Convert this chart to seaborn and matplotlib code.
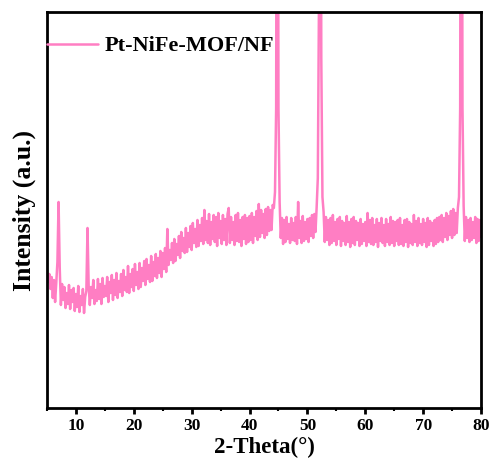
import numpy as np
import pandas as pd
import seaborn as sns
import matplotlib
matplotlib.use("Agg")
import matplotlib.pyplot as plt
from matplotlib.ticker import MultipleLocator

# XRD scan: 2-theta from 5 to 80 deg, step 0.2 deg
two_theta_start = 5.0
two_theta_step = 0.2

# Intensity counts (a.u.), five points per degree, one row per degree
intensity = [
    138, 126, 134, 119, 131,   # 5
    110, 128, 106, 125, 146,   # 6
    206, 140, 103, 124, 108,   # 7
    121, 100, 115, 104, 123,   # 8
    99, 118, 106, 120, 97,     # 9
    114, 101, 122, 96, 112,    # 10
    103, 119, 95, 111, 117,    # 11
    180, 122, 103, 121, 110,   # 12
    128, 104, 118, 107, 129,   # 13
    109, 124, 104, 130, 111,   # 14
    122, 112, 131, 106, 126,   # 15
    115, 133, 108, 128, 113,   # 16
    135, 110, 127, 116, 134,   # 17
    112, 138, 118, 131, 116,   # 18
    142, 115, 134, 121, 139,   # 19
    117, 144, 123, 136, 119,   # 20
    145, 121, 140, 127, 147,   # 21
    123, 149, 129, 143, 126,   # 22
    152, 127, 146, 132, 154,   # 23
    130, 150, 135, 157, 131,   # 24
    155, 139, 160, 136, 179,   # 25
    143, 158, 148, 165, 145,   # 26
    169, 147, 164, 153, 172,   # 27
    150, 176, 157, 170, 155,   # 28
    180, 156, 175, 161, 182,   # 29
    158, 185, 165, 179, 161,   # 30
    188, 162, 183, 167, 190,   # 31
    164, 198, 168, 187, 165,   # 32
    194, 163, 186, 169, 193,   # 33
    166, 191, 162, 195, 170,   # 34
    187, 164, 193, 168, 189,   # 35
    163, 194, 200, 165, 191,   # 36
    168, 186, 163, 193, 167,   # 37
    195, 166, 188, 162, 191,   # 38
    169, 193, 164, 190, 166,   # 39
    192, 168, 195, 165, 191,   # 40
    172, 197, 168, 204, 171,   # 41
    198, 175, 194, 170, 199,   # 42
    173, 201, 177, 198, 178,   # 43
    203, 200, 216, 300, 1000,  # 44
    300, 206, 170, 190, 164,   # 45
    188, 166, 191, 169, 184,   # 46
    165, 190, 168, 185, 167,   # 47
    191, 164, 206, 170, 187,   # 48
    165, 192, 167, 186, 169,   # 49
    189, 166, 190, 172, 193,   # 50
    170, 194, 176, 201, 230,   # 51
    400, 1000, 350, 211, 196,  # 52
    166, 191, 168, 188, 163,   # 53
    190, 165, 193, 167, 186,   # 54
    163, 189, 169, 191, 162,   # 55
    187, 167, 185, 163, 192,   # 56
    166, 186, 161, 189, 165,   # 57
    191, 163, 187, 168, 185,   # 58
    162, 189, 164, 184, 167,   # 59
    186, 162, 195, 166, 188,   # 60
    164, 190, 163, 183, 166,   # 61
    189, 161, 185, 167, 190,   # 62
    165, 183, 162, 189, 166,   # 63
    184, 163, 191, 165, 187,   # 64
    162, 186, 167, 188, 163,   # 65
    190, 164, 183, 162, 188,   # 66
    166, 189, 161, 186, 165,   # 67
    184, 163, 193, 166, 187,   # 68
    162, 190, 165, 184, 163,   # 69
    189, 166, 185, 161, 190,   # 70
    163, 187, 167, 185, 162,   # 71
    188, 164, 190, 166, 191,   # 72
    168, 193, 166, 190, 171,   # 73
    195, 168, 192, 173, 197,   # 74
    170, 199, 173, 195, 175,   # 75
    200, 211, 300, 1000, 300,  # 76
    202, 167, 191, 170, 188,   # 77
    166, 190, 168, 186, 170,   # 78
    191, 165, 189, 167, 188,   # 79
    171,                       # 80
]

sample_label = "Pt-NiFe-MOF/NF"
x_ticks = [10, 20, 30, 40, 50, 60, 70, 80]

two_theta = np.round(two_theta_start + two_theta_step * np.arange(len(intensity)), 2)
df = pd.DataFrame({"two_theta": two_theta, "intensity": intensity, "sample": sample_label})

sns.set_style("ticks")
plt.rcParams["font.family"] = ["Liberation Serif", "DejaVu Serif"]
plt.rcParams["font.weight"] = "bold"
plt.rcParams["text.color"] = "black"
plt.rcParams["axes.labelcolor"] = "black"
plt.rcParams["xtick.color"] = "black"
plt.rcParams["ytick.color"] = "black"

fig = plt.figure(figsize=(4.92, 4.67), dpi=100)
ax = fig.add_axes([47 / 492, 1 - 408 / 467, (481 - 47) / 492, (408 - 12) / 467])

pink = "#FF7EC3"
sns.lineplot(data=df, x="two_theta", y="intensity", hue="sample",
             palette=[pink], linewidth=1.8, ax=ax, estimator=None, sort=False)

ax.set_xlim(5, 80)
ax.set_ylim(0, 396)
ax.set_xticks(x_ticks)
ax.xaxis.set_minor_locator(MultipleLocator(5))
ax.set_yticks([])
ax.tick_params(axis="x", which="major", direction="out", length=4, width=2,
               labelsize=12.5, pad=3, colors="black")
ax.tick_params(axis="x", which="minor", direction="out", length=2.5, width=1.5,
               colors="black")
for lab in ax.get_xticklabels():
    lab.set_fontweight("bold")
for sp in ax.spines.values():
    sp.set_linewidth(2)
    sp.set_color("black")

ax.set_xlabel("2-Theta(°)", fontsize=16.5, fontweight="bold", labelpad=2, color="black")
ax.set_ylabel("Intensity (a.u.)", fontsize=18.5, fontweight="bold", labelpad=8, color="black")

leg = ax.legend(loc="upper left", bbox_to_anchor=(0.0, 0.94), frameon=False,
                borderaxespad=0, borderpad=0, handlelength=2.3, handletextpad=0.3,
                prop={"family": "Liberation Serif", "weight": "bold", "size": 16})
for t in leg.get_texts():
    t.set_color("black")
for h in leg.get_lines():
    h.set_linewidth(1.8)

fig.savefig("out.png", dpi=100)
